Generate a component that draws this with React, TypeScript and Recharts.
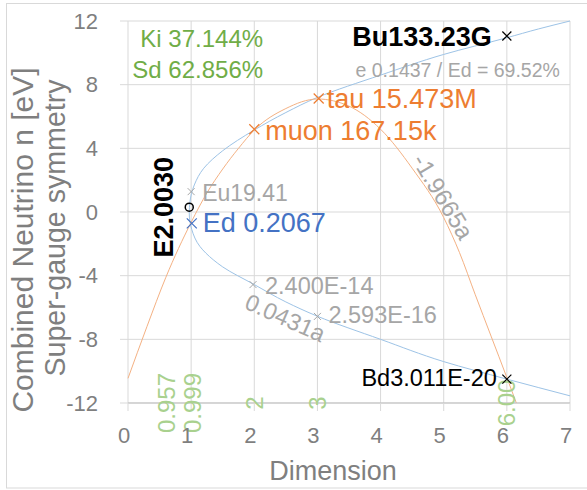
import React from 'react';
import { ComposedChart, Line, Scatter, XAxis, YAxis, CartesianGrid } from 'recharts';

const W = 587;
const H = 490;
const FONT = '"Liberation Sans", Arial, sans-serif';

const xTicks = [0, 1, 2, 3, 4, 5, 6, 7];
const yTicks = [-12, -8, -4, 0, 4, 8, 12];

// blue curve, traced from the upper right round the vertex to the lower right (y keeps falling)
const blueCurve = [
  { x: 7, y: 12.0 }, { x: 6.5, y: 11.5 }, { x: 6, y: 10.95 }, { x: 5, y: 9.9 },
  { x: 4, y: 8.6 }, { x: 3, y: 7.2 }, { x: 2.5, y: 6.25 }, { x: 2, y: 5.15 },
  { x: 1.5, y: 3.85 }, { x: 1.2, y: 2.75 }, { x: 1.05, y: 1.7 }, { x: 0.98, y: 0.6 },
  { x: 0.97, y: -0.06 }, { x: 1.01, y: -1.1 }, { x: 1.14, y: -2.17 }, { x: 1.35, y: -3.0 },
  { x: 1.5, y: -3.45 }, { x: 2, y: -4.56 }, { x: 2.5, y: -5.65 }, { x: 3, y: -6.55 },
  { x: 4, y: -8.0 }, { x: 5, y: -9.4 }, { x: 6, y: -10.5 }, { x: 7, y: -11.55 },
];

const orangeCurve = [
  { x: 0, y: -10.45 }, { x: 0.3, y: -7.2 }, { x: 0.6, y: -4.1 }, { x: 1, y: -0.65 },
  { x: 1.25, y: 1.2 }, { x: 1.5, y: 2.7 }, { x: 1.75, y: 4.0 }, { x: 2, y: 5.15 },
  { x: 2.5, y: 6.5 }, { x: 3, y: 7.1 }, { x: 3.5, y: 6.65 }, { x: 4, y: 5.2 },
  { x: 4.5, y: 2.75 }, { x: 5, y: -0.35 }, { x: 5.25, y: -2.55 }, { x: 5.5, y: -5.2 },
  { x: 5.75, y: -7.8 }, { x: 6, y: -10.4 }, { x: 6.15, y: -12 },
];

const orangeMarks = [
  { x: 2, y: 5.2, label: 'muon 167.15k' },
  { x: 3.02, y: 7.13, label: 'tau 15.473M' },
];
const blackMarks = [
  { x: 6, y: 11.06, label: 'Bu133.23G' },
  { x: 6, y: -10.5, label: 'Bd3.011E-20' },
];
const grayMarks = [
  { x: 1, y: 1.28, label: 'Eu19.41' },
  { x: 1.98, y: -4.56, label: '2.400E-14' },
  { x: 3, y: -6.56, label: '2.593E-16' },
];
const blueMarks = [{ x: 1.01, y: -0.71, label: 'Ed 0.2067' }];
const circleMarks = [{ x: 0.97, y: 0.3, label: 'E2.0030' }];
const axisValues = [
  { x: 0.957, y: -12, label: '0.957' },
  { x: 0.999, y: -12, label: '0.999' },
  { x: 2, y: -12, label: '2' },
  { x: 3, y: -12, label: '3' },
  { x: 6, y: -12, label: '6.00' },
];
const notes = [
  { x: 2.14, y: 10.37, label: 'Ki 37.144%' },
  { x: 2.14, y: 8.42, label: 'Sd 62.856%' },
  { x: 6.84, y: 8.48, label: 'e 0.1437 / Ed = 69.52%' },
  { x: 4.99, y: 0.97, label: '-1.9665a' },
  { x: 2.49, y: -6.66, label: '0.0431a' },
];

const ORANGE = '#ed7d31';
const BLUE = '#4472c4';
const GRAY = '#a6a6a6';
const GREEN = '#70ad47';
const LIGHTGREEN = '#a9d18e';
const AXIS = '#7f7f7f';

type Place = {
  dx?: number; dy?: number; anchor?: 'start' | 'middle' | 'end'; size: number;
  bold?: boolean; rotate?: number; color: string; central?: boolean;
};

// where each text sits relative to its point
const place: Record<string, Place> = {
  'muon 167.15k': { dx: 11, dy: 11, size: 27, color: ORANGE },
  'tau 15.473M': { dx: 8, dy: 9, size: 27, color: ORANGE },
  'Bu133.23G': { dx: -15, dy: 10, anchor: 'end', size: 27, bold: true, color: '#000' },
  'Bd3.011E-20': { dx: -10, dy: 7, anchor: 'end', size: 23.5, color: '#000' },
  'Eu19.41': { dx: 11, dy: 9, size: 23, color: GRAY },
  '2.400E-14': { dx: 12, dy: 9, size: 23.5, color: GRAY },
  '2.593E-16': { dx: 11, dy: 7, size: 23.5, color: GRAY },
  'Ed 0.2067': { dx: 11, dy: 9, size: 27, color: BLUE },
  'E2.0030': { dx: -16, dy: 0, anchor: 'middle', rotate: -90, size: 27, bold: true, color: '#000' },
  '0.957': { dx: -22, anchor: 'middle', rotate: -90, central: true, size: 24, color: LIGHTGREEN },
  '0.999': { dx: 1, anchor: 'middle', rotate: -90, central: true, size: 24, color: LIGHTGREEN },
  '2': { anchor: 'middle', rotate: -90, central: true, size: 24, color: LIGHTGREEN },
  '3': { anchor: 'middle', rotate: -90, central: true, size: 24, color: LIGHTGREEN },
  '6.00': { anchor: 'middle', rotate: -90, central: true, size: 24, color: LIGHTGREEN },
  'Ki 37.144%': { anchor: 'end', size: 24, color: GREEN },
  'Sd 62.856%': { anchor: 'end', size: 24, color: GREEN },
  'e 0.1437 / Ed = 69.52%': { anchor: 'end', size: 19.5, color: GRAY },
  '-1.9665a': { anchor: 'middle', rotate: 59, central: true, size: 24, color: GRAY },
  '0.0431a': { anchor: 'middle', rotate: 24, central: true, size: 23.5, color: GRAY },
};

const Label = ({ cx, cy, text }: { cx: number; cy: number; text: string }) => {
  const p = place[text];
  const x = cx + (p.dx ?? 0);
  const y = cy + (p.dy ?? 0);
  return (
    <text
      x={x}
      y={y}
      fill={p.color}
      fontSize={p.size}
      fontFamily={FONT}
      fontWeight={p.bold ? 'bold' : 'normal'}
      textAnchor={p.anchor ?? 'start'}
      dominantBaseline={p.central ? 'central' : 'auto'}
      transform={p.rotate ? `rotate(${p.rotate} ${x} ${y})` : undefined}
    >
      {text}
    </text>
  );
};

const cross = (color: string, size: number, sw = 1.2) => (props: any) => {
  const { cx, cy, payload } = props;
  const h = size / 2;
  return (
    <g>
      <path d={`M${cx - h},${cy - h}L${cx + h},${cy + h}M${cx - h},${cy + h}L${cx + h},${cy - h}`} stroke={color} strokeWidth={sw} />
      <Label cx={cx} cy={cy} text={payload.label} />
    </g>
  );
};

const ring = (props: any) => {
  const { cx, cy, payload } = props;
  return (
    <g>
      <circle cx={cx} cy={cy} r={4} fill="none" stroke="#000" strokeWidth={1.5} />
      <Label cx={cx} cy={cy} text={payload.label} />
    </g>
  );
};

const textOnly = (props: any) => <Label cx={props.cx} cy={props.cy} text={props.payload.label} />;

export default function App() {
  return (
    <div style={{ position: 'relative', width: W, height: H }}>
      <style>{'body{margin:0}'}</style>
      <ComposedChart width={W} height={H} margin={{ top: 21, right: 17, bottom: 0, left: 0 }}>
        <CartesianGrid stroke="#d9d9d9" />
        <XAxis
          type="number"
          dataKey="x"
          domain={[0, 7]}
          ticks={xTicks}
          height={87}
          axisLine={{ stroke: '#bfbfbf' }}
          tickLine={{ stroke: '#d9d9d9' }}
          tickSize={8}
          tickMargin={16}
          tick={{ fill: AXIS, fontSize: 22, fontFamily: FONT, dx: -4 }}
        />
        <YAxis
          type="number"
          dataKey="y"
          domain={[-12, 12]}
          ticks={yTicks}
          width={128}
          axisLine={false}
          tickLine={{ stroke: '#d9d9d9' }}
          tickSize={8}
          tickMargin={22}
          tick={{ fill: AXIS, fontSize: 22, fontFamily: FONT }}
        />
        <Line data={blueCurve} dataKey="y" type="monotoneY" stroke="#9dc3e6" strokeWidth={1} dot={false} isAnimationActive={false} />
        <Line data={orangeCurve} dataKey="y" type="monotone" stroke="#f4b183" strokeWidth={1} dot={false} isAnimationActive={false} />
        <Scatter data={axisValues} shape={textOnly} isAnimationActive={false} />
        <Scatter data={notes} shape={textOnly} isAnimationActive={false} />
        <Scatter data={grayMarks} shape={cross(GRAY, 7, 1)} isAnimationActive={false} />
        <Scatter data={orangeMarks} shape={cross(ORANGE, 10)} isAnimationActive={false} />
        <Scatter data={blueMarks} shape={cross(BLUE, 10)} isAnimationActive={false} />
        <Scatter data={blackMarks} shape={cross('#000', 9)} isAnimationActive={false} />
        <Scatter data={circleMarks} shape={ring} isAnimationActive={false} />
      </ComposedChart>
      <svg width={W} height={H} style={{ position: 'absolute', left: 0, top: 0, pointerEvents: 'none' }}>
        <rect x={6.5} y={3.5} width={600} height={484.5} fill="none" stroke="#d9d9d9" />
        <g fill={AXIS} fontFamily={FONT} textAnchor="middle">
          <text x={33} y={240} fontSize={30} transform="rotate(-90 33 240)">Combined Neutrino n [eV]</text>
          <text x={65} y={228} fontSize={28.6} transform="rotate(-90 65 228)">Super-gauge symmetry</text>
        </g>
        <text x={333} y={480} fill={AXIS} fontSize={27} fontFamily={FONT} textAnchor="middle">Dimension</text>
      </svg>
    </div>
  );
}
